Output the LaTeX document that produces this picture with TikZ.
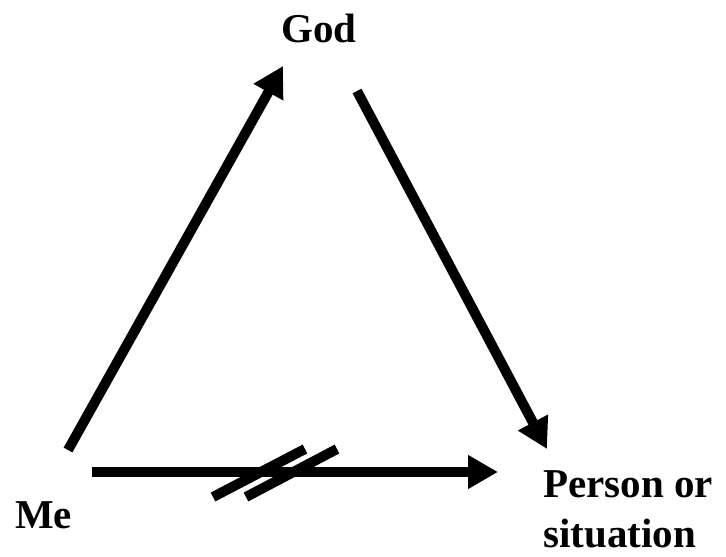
\documentclass[tikz,border=0pt]{standalone}
\usepackage{fontspec}
\setmainfont{Liberation Serif}
\usetikzlibrary{arrows.meta}
\begin{document}
\begin{tikzpicture}[x=1pt,y=-1pt,
  lbl/.style={font=\fontsize{41}{50}\selectfont\bfseries, inner sep=0pt, anchor=base west, align=left},
  arr/.style={line width=10pt, -{Triangle[length=30pt,width=32pt]}},
  slash/.style={line width=10pt}]
\useasboundingbox (0,0) rectangle (726,557);
\node[lbl] (god) at (281,42) {God};
\node[lbl] (me) at (15,528) {Me};
\node[lbl] (person) at (543,547) {Person or\\situation};
\coordinate (a1s) at (68,450);
\coordinate (a1e) at (283,66);
\coordinate (a2s) at (357,91);
\coordinate (a2e) at (547,449);
\coordinate (a3s) at (92,472);
\coordinate (a3e) at (498,472);
\draw[arr] (a1s) -- (a1e);
\draw[arr] (a2s) -- (a2e);
\draw[arr] (a3s) -- (a3e);
\coordinate (s1a) at (213,497);
\coordinate (s1b) at (305,449);
\coordinate (s2a) at (246,497);
\coordinate (s2b) at (337,449);
\draw[slash] (s1a) -- (s1b);
\draw[slash] (s2a) -- (s2b);
\end{tikzpicture}
\end{document}
